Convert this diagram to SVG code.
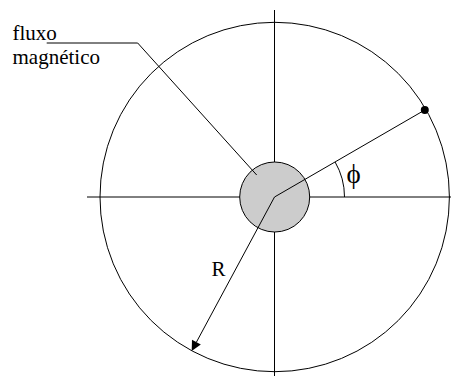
<svg xmlns="http://www.w3.org/2000/svg" width="451" height="376" viewBox="0 0 451 376">
<style>
.ln{stroke:#000;stroke-width:1;fill:none}
text{font-family:'Liberation Serif','DejaVu Serif',serif;fill:#000}
</style>
<rect width="451" height="376" fill="#fff"/>
<g id="outer-circle"><circle class="ln" cx="274.7" cy="197" r="174.7"/></g>
<g id="axes">
<line class="ln" x1="274.5" y1="10" x2="274.5" y2="376"/>
<line class="ln" x1="87" y1="197" x2="451" y2="197"/>
</g>
<g id="flux-core"><circle cx="274.7" cy="197" r="35" fill="#cccccc" stroke="#000" stroke-width="1"/></g>
<g id="connectors">
<line class="ln" x1="274.5" y1="197" x2="424.8" y2="110"/>
<path class="ln" d="M344.5,197 A70,70 0 0 0 335.1,162"/>
<line class="ln" x1="274.5" y1="197" x2="196.4" y2="342.2"/>
<polygon points="191.7,351 200.8,344.6 192,339.8" fill="#000"/>
<polyline class="ln" points="46.7,43 137.7,43 256.7,175"/>
</g>
<g id="point"><circle cx="424.8" cy="110" r="4" fill="#000"/></g>
<g id="labels">
<text font-family="Liberation Serif, serif" font-size="21" x="12.5" y="39.5">fluxo</text>
<text font-family="Liberation Serif, serif" font-size="21" x="12.5" y="63.5">magnético</text>
<text font-family="Liberation Serif, serif" font-size="21" x="211.5" y="275.7">R</text>
<text font-family="Liberation Serif, serif" font-size="27" x="346.5" y="183">ϕ</text>
</g>
</svg>
